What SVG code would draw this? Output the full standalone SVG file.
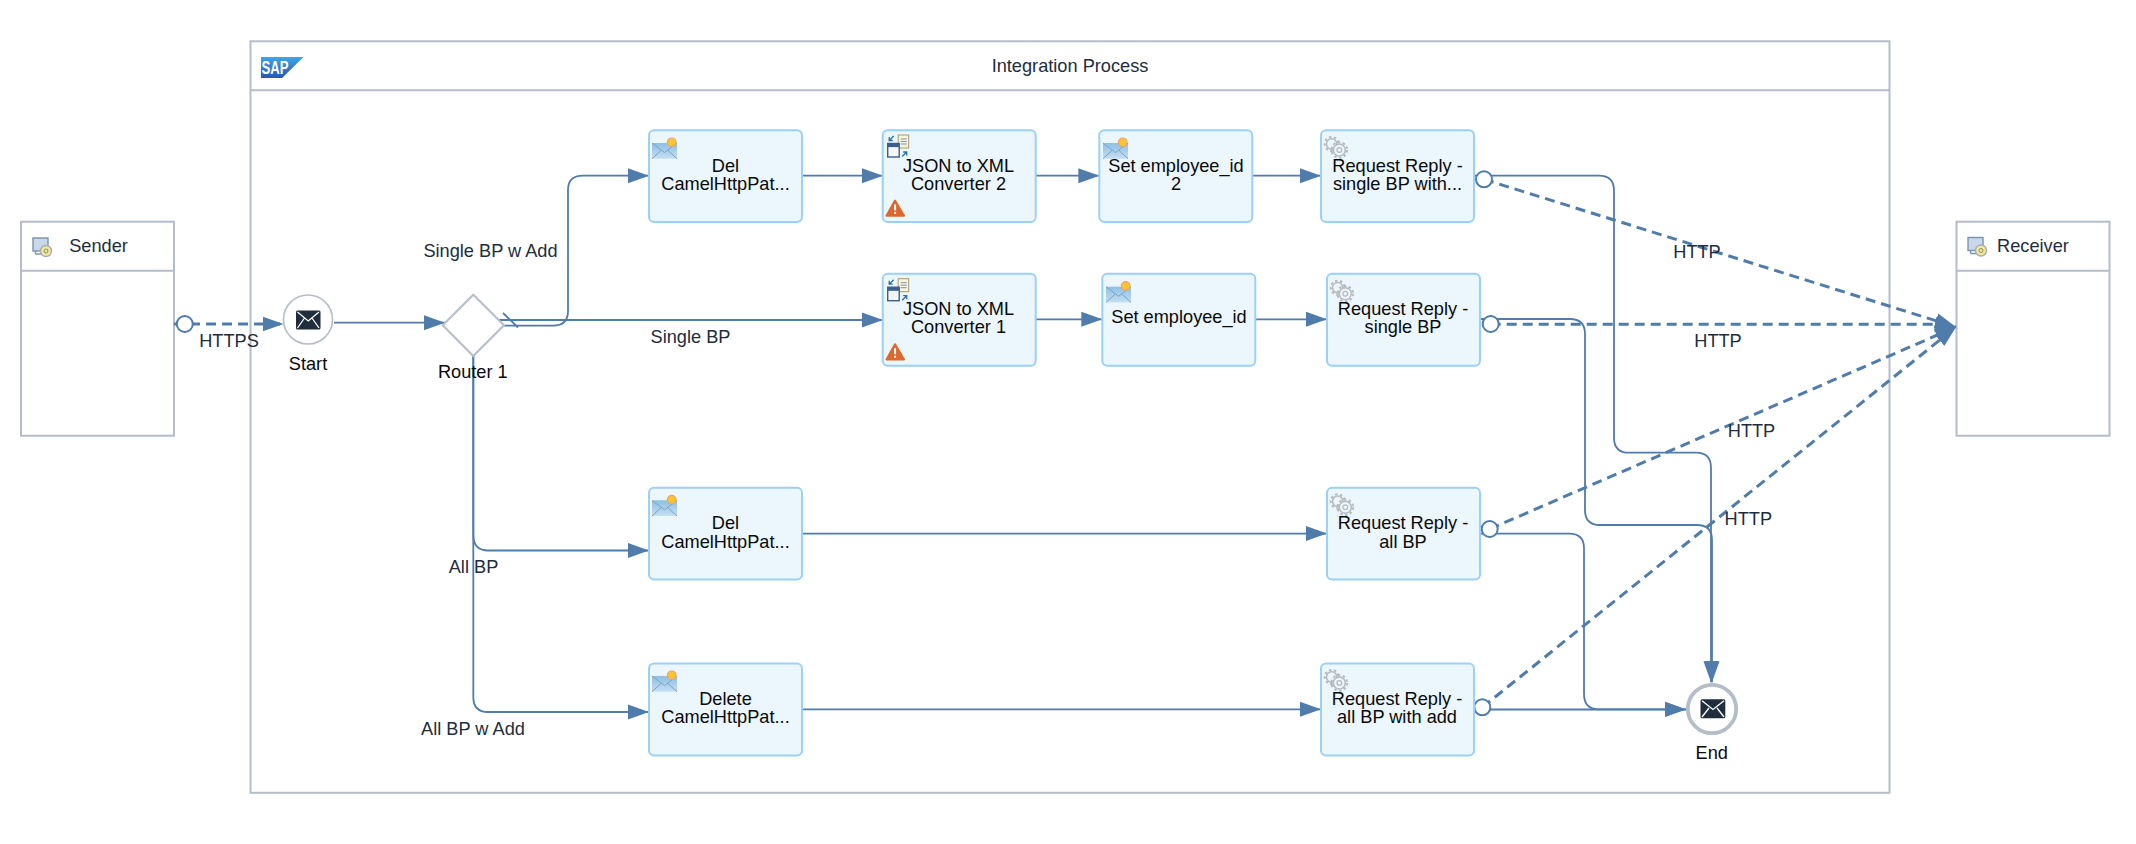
<svg xmlns="http://www.w3.org/2000/svg" xmlns:xlink="http://www.w3.org/1999/xlink" width="2136" height="844" viewBox="0 0 2136 844">
<style>
text{font-family:"Liberation Sans",Arial,sans-serif;font-size:18.2px;text-anchor:middle}
.node{fill:#ebf6fd;stroke:#9bd0f8;stroke-width:2}
.t{fill:#0a0a0a}
.l{fill:#1d2d3e}
.frame{fill:#fff;stroke:#b4bdca;stroke-width:2}
.frameline{stroke:#b4bdca;stroke-width:2;fill:none}
.flow{fill:none;stroke:#4f7cab;stroke-width:1.8}
.msg{fill:none;stroke:#4f7cab;stroke-width:3;stroke-dasharray:10 6}
.port{fill:#fff;stroke:#4f7cab;stroke-width:2}
.arrow{marker-end:url(#ah)}
</style>
<defs>
<marker id="ah" markerUnits="userSpaceOnUse" markerWidth="22" markerHeight="17" refX="21" refY="8" orient="auto"><path d="M0,0.5L21,8L0,15.5z" fill="#4f7cab"/></marker>
<linearGradient id="envg" x1="0" y1="0" x2="0" y2="1"><stop offset="0" stop-color="#8dbfe4"/><stop offset="1" stop-color="#c5def2"/></linearGradient>
<linearGradient id="sapg" x1="0" y1="0" x2="0" y2="1"><stop offset="0" stop-color="#3fa6e6"/><stop offset="1" stop-color="#2a55b0"/></linearGradient>
<g id="env">
<rect x="3" y="13" width="25" height="15.7" fill="url(#envg)"/>
<path d="M3,13L15.5,22.5L28,13M3,28.7L12,20.5M28,28.7L19,20.5" fill="none" stroke="#7fa2c2" stroke-width="1"/>
<circle cx="22.7" cy="12.3" r="4.3" fill="#fbc52d" stroke="#f0a079" stroke-width="1.2"/>
</g>
<g id="gear">
<circle cx="10.7" cy="14" r="5.2" fill="none" stroke="#b6babf" stroke-width="1.5"/>
<circle cx="10.7" cy="14" r="7" fill="none" stroke="#b6babf" stroke-width="2" stroke-dasharray="2.5 2.5"/>
<circle cx="18.3" cy="20" r="6" fill="#ebf6fd" stroke="#b6babf" stroke-width="1.5"/>
<circle cx="18.3" cy="20" r="7.8" fill="none" stroke="#b6babf" stroke-width="2" stroke-dasharray="2.5 2.5"/>
<circle cx="18.3" cy="20" r="2.4" fill="none" stroke="#b6babf" stroke-width="1.2"/>
</g>
<g id="conv">
<rect x="15.5" y="5" width="10.5" height="13" fill="#f8f3df" stroke="#a89a6c" stroke-width="1"/>
<path d="M18,9H24M18,11.5H24M18,14H24" stroke="#5c7d9e" stroke-width="0.8"/>
<rect x="5" y="13.5" width="11.5" height="13.5" fill="#f3f7fb" stroke="#3a5f8a" stroke-width="1.4"/>
<rect x="5" y="13.5" width="11.5" height="3.6" fill="#3a5f8a"/>
<path d="M11,6L6.5,10.5M6.5,7V10.5H10M19.5,26.5L24,22M24,25.5V22H20.5" fill="none" stroke="#2f6fa8" stroke-width="1.3"/>
</g>
<g id="warn">
<path d="M12.3,70.5L3.8,85.7H21.3z" fill="#e0672b" stroke="#e0672b" stroke-width="2" stroke-linejoin="round"/>
<rect x="11.4" y="74.5" width="2" height="6" fill="#fff"/>
<rect x="11.4" y="82" width="2" height="2" fill="#fff"/>
</g>
<g id="sys">
<rect x="0.5" y="0.5" width="15" height="13" fill="#c9d8e8" stroke="#7a93b0" stroke-width="1.4"/>
<path d="M3,16.5H9M3,13.5V16.5" fill="none" stroke="#7a93b0" stroke-width="1.4"/>
<circle cx="13.5" cy="13.5" r="5.5" fill="#f2e79a" stroke="#a8adb3" stroke-width="1.4"/>
<circle cx="13.5" cy="13.5" r="2" fill="none" stroke="#8a8a6a" stroke-width="1"/>
</g>
</defs>
<rect width="2136" height="844" fill="#fff"/>

<g id="integration-process">
<rect class="frame" x="250.5" y="41.3" width="1639" height="751.5"/>
<path class="frameline" d="M250.5,90.3H1889.5"/>
<path d="M261,57H303.6L282,78H261z" fill="url(#sapg)"/>
<text x="275" y="74" font-weight="bold" style="font-size:18px;fill:#fff" textLength="27" lengthAdjust="spacingAndGlyphs">SAP</text>
<text class="l" x="1070" y="71.5">Integration Process</text>
</g>

<g id="sender">
<rect class="frame" x="21" y="221.7" width="153" height="214"/>
<path class="frameline" d="M21,270.7H174"/>
<use xlink:href="#sys" href="#sys" x="32.5" y="237.5"/>
<text class="l" x="98.5" y="252.3">Sender</text>
</g>
<g id="receiver">
<rect class="frame" x="1956.5" y="221.7" width="153" height="214"/>
<path class="frameline" d="M1956.5,270.7H2109.5"/>
<use xlink:href="#sys" href="#sys" x="1967.5" y="237"/>
<text class="l" x="2033" y="251.7">Receiver</text>
</g>

<g id="connectors">
<path class="msg arrow" d="M174,324H283.5"/>
<path class="flow arrow" d="M334,322.7H445"/>
<path class="flow arrow" d="M498,320H883"/>
<path class="flow arrow" d="M498,325.7H553Q568,325.7 568,311V190Q568,175.7 583,175.7H649"/>
<path class="flow" d="M503,313L518,327.5"/>
<path class="flow arrow" d="M473.3,356V535Q473.3,550.5 488,550.5H649"/>
<path class="flow arrow" d="M473.3,356V697Q473.3,712 488,712H649"/>
<path class="flow arrow" d="M802,175.7H883"/>
<path class="flow arrow" d="M1036,175.7H1099.3"/>
<path class="flow arrow" d="M1252.3,175.7H1321"/>
<path class="flow arrow" d="M1036,319.3H1102.3"/>
<path class="flow arrow" d="M1255.7,319.3H1327"/>
<path class="flow arrow" d="M802,533.6H1327"/>
<path class="flow arrow" d="M802,709.3H1321"/>
<path class="flow arrow" d="M1474,175.7H1599Q1614,175.7 1614,190.7V437.7Q1614,452.7 1629,452.7H1696Q1711,452.7 1711,468V682.3"/>
<path class="flow arrow" d="M1480,319H1570Q1585,319 1585,334V510Q1585,525 1600,525H1697Q1712,525 1712,540V682.3"/>
<path class="flow arrow" d="M1480,533.6H1569Q1584,533.6 1584,548V694Q1584,709.3 1599,709.3H1686"/>
<path class="flow arrow" d="M1474,709.5H1686"/>
<path class="msg arrow" d="M1484,179.3L1956,327"/>
<path class="msg arrow" d="M1490.7,324.3H1935L1956,327"/>
<path class="msg arrow" d="M1489.7,529L1956,327"/>
<path class="msg arrow" d="M1482.3,707.3L1956,327"/>
<circle class="port" cx="184.8" cy="324" r="8"/>
<circle class="port" cx="1484" cy="179.3" r="8"/>
<circle class="port" cx="1490.7" cy="324" r="8"/>
<circle class="port" cx="1489.7" cy="529" r="8"/>
<circle class="port" cx="1482.3" cy="707.3" r="8"/>
</g>

<g id="start">
<circle cx="308" cy="319.5" r="24.5" fill="#fff" stroke="#b4bdca" stroke-width="1.6"/>
<rect x="296" y="310.5" width="24.5" height="19" rx="1.5" fill="#1f2d3d"/>
<path d="M297.5,312L308.2,321L319,312M297.5,328L304.5,318M319,328L312,318" fill="none" stroke="#fff" stroke-width="1.3"/>
<text class="t" x="308" y="370">Start</text>
</g>
<g id="router-1">
<path d="M473.3,294.7L504,325.3L473.3,356L442.7,325.3z" fill="#fff" stroke="#b4bdca" stroke-width="2"/>
<text class="t" x="472.8" y="378">Router 1</text>
</g>
<g id="end">
<circle cx="1712" cy="709" r="24.2" fill="#fff" stroke="#b4bdca" stroke-width="3.8"/>
<rect x="1700.5" y="699.3" width="24.8" height="19" rx="1.5" fill="#1f2d3d"/>
<path d="M1702,700.8L1713,709.5L1724,700.8M1702,717L1709,708M1724,717L1717,708" fill="none" stroke="#fff" stroke-width="1.3"/>
<text class="t" x="1711.7" y="759">End</text>
</g>

<g id="del-1">
<rect class="node" x="649" y="130.3" width="153" height="91.7" rx="5"/>
<use xlink:href="#env" href="#env" x="649" y="130"/>
<text class="t" x="725.5" y="171.5">Del</text><text class="t" x="725.5" y="190">CamelHttpPat...</text>
</g>
<g id="json-xml-2">
<rect class="node" x="882.7" y="130.3" width="153" height="91.7" rx="5"/>
<use xlink:href="#conv" href="#conv" x="882.7" y="130"/>
<use xlink:href="#warn" href="#warn" x="882.7" y="130"/>
<text class="t" x="958.5" y="171.5">JSON to XML</text><text class="t" x="958.5" y="190">Converter 2</text>
</g>
<g id="set-2">
<rect class="node" x="1099.3" y="130.3" width="153" height="91.7" rx="5"/>
<use xlink:href="#env" href="#env" x="1100" y="130"/>
<text class="t" x="1176" y="171.5">Set employee_id</text><text class="t" x="1176" y="190">2</text>
</g>
<g id="rr-single-with">
<rect class="node" x="1321" y="130.3" width="153" height="91.7" rx="5"/>
<use xlink:href="#gear" href="#gear" x="1321" y="130"/>
<text class="t" x="1397.5" y="171.5">Request Reply -</text><text class="t" x="1397.5" y="190">single BP with...</text>
</g>
<g id="json-xml-1">
<rect class="node" x="882.7" y="273.7" width="153" height="92" rx="5"/>
<use xlink:href="#conv" href="#conv" x="882.7" y="273.7"/>
<use xlink:href="#warn" href="#warn" x="882.7" y="273.7"/>
<text class="t" x="958.5" y="315">JSON to XML</text><text class="t" x="958.5" y="333.3">Converter 1</text>
</g>
<g id="set-1">
<rect class="node" x="1102.3" y="273.7" width="153" height="92" rx="5"/>
<use xlink:href="#env" href="#env" x="1103" y="273.7"/>
<text class="t" x="1179" y="323.3">Set employee_id</text>
</g>
<g id="rr-single">
<rect class="node" x="1327" y="273.7" width="153" height="92" rx="5"/>
<use xlink:href="#gear" href="#gear" x="1327" y="273.7"/>
<text class="t" x="1403" y="315">Request Reply -</text><text class="t" x="1403" y="332.7">single BP</text>
</g>
<g id="del-2">
<rect class="node" x="649" y="487.7" width="153" height="91.7" rx="5"/>
<use xlink:href="#env" href="#env" x="649" y="487.3"/>
<text class="t" x="725.5" y="529.3">Del</text><text class="t" x="725.5" y="547.5">CamelHttpPat...</text>
</g>
<g id="rr-all">
<rect class="node" x="1327" y="487.7" width="153" height="91.7" rx="5"/>
<use xlink:href="#gear" href="#gear" x="1327" y="487.3"/>
<text class="t" x="1403" y="529.3">Request Reply -</text><text class="t" x="1403" y="547.5">all BP</text>
</g>
<g id="delete">
<rect class="node" x="649" y="663.4" width="153" height="92" rx="5"/>
<use xlink:href="#env" href="#env" x="649" y="663"/>
<text class="t" x="725.5" y="704.5">Delete</text><text class="t" x="725.5" y="723.3">CamelHttpPat...</text>
</g>
<g id="rr-all-add">
<rect class="node" x="1321" y="663.4" width="153" height="92" rx="5"/>
<use xlink:href="#gear" href="#gear" x="1321" y="663"/>
<text class="t" x="1397" y="704.5">Request Reply -</text><text class="t" x="1397" y="723.3">all BP with add</text>
</g>

<g id="connector-labels">
<text class="l" x="229" y="346.7">HTTPS</text>
<text class="l" x="490.5" y="257.3">Single BP w Add</text>
<text class="l" x="690.5" y="342.7">Single BP</text>
<text class="l" x="473.5" y="573.3">All BP</text>
<text class="l" x="473" y="735">All BP w Add</text>
<text class="l" x="1697" y="258.3">HTTP</text>
<text class="l" x="1718" y="346.7">HTTP</text>
<text class="l" x="1751.5" y="436.7">HTTP</text>
<text class="l" x="1748.3" y="525">HTTP</text>
</g>
</svg>
